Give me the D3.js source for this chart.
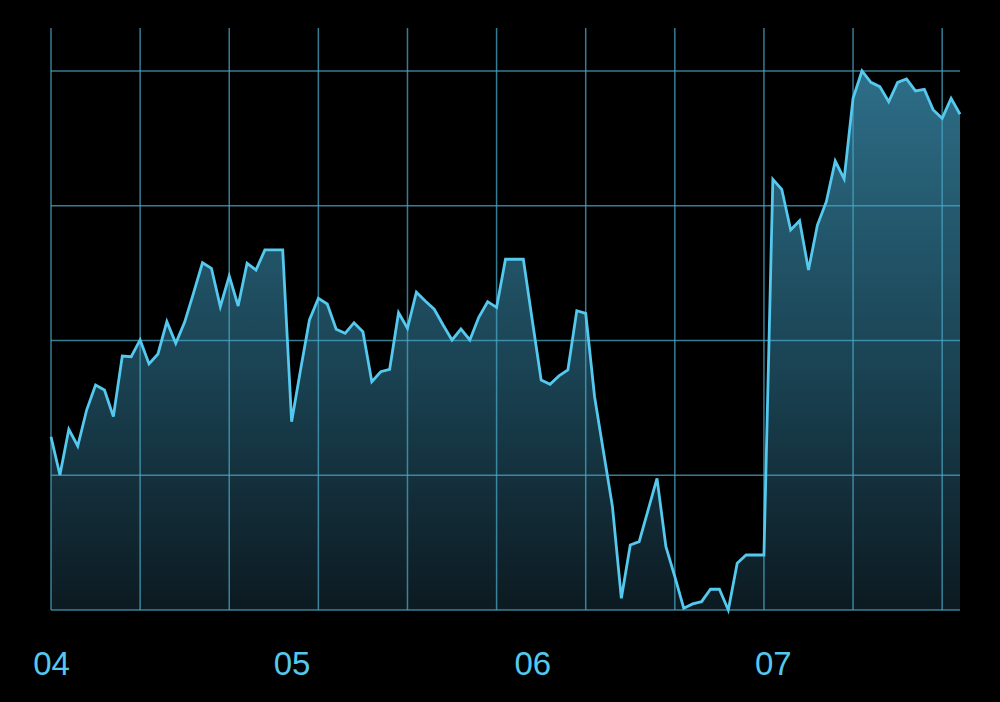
<!DOCTYPE html>
<html>
<head>
<meta charset="utf-8">
<script src="https://cdn.jsdelivr.net/npm/d3@7"></script>
<style>
  html, body { margin: 0; padding: 0; background: #000; }
  svg { display: block; }
</style>
</head>
<body>
<svg id="chart" width="1000" height="702"></svg>
<script>
// ---- data ----
const values = [
  12.86, 10.02, 13.41, 12.17, 14.84, 16.70, 16.33, 14.35, 18.85, 18.80,
  20.04, 18.26, 19.00, 21.40, 19.79, 21.37, 23.53, 25.77, 25.36, 22.51,
  24.79, 22.56, 25.73, 25.23, 26.72, 26.72, 26.72, 13.97, 17.81, 21.52,
  23.13, 22.71, 20.83, 20.53, 21.32, 20.65, 16.94, 17.68, 17.86, 22.06,
  20.91, 23.58, 22.93, 22.32, 21.15, 20.04, 20.85, 20.04, 21.72, 22.88,
  22.46, 26.03, 26.03, 26.03, 21.52, 17.07, 16.75, 17.37, 17.81, 22.21,
  22.02, 15.81, 11.73, 7.67, 0.87, 4.82, 5.07, 7.42, 9.77, 4.70,
  2.47, 0.13, 0.45, 0.62, 1.54, 1.54, 0.00, 3.47, 4.08, 4.08,
  4.08, 31.96, 31.22, 28.20, 28.89, 25.23, 28.57, 30.30, 33.32, 31.99,
  37.97, 40.00, 39.16, 38.84, 37.72, 39.16, 39.41, 38.52, 38.64, 37.11,
  36.49, 37.97, 36.79
];
const xGridTicks = [0, 10, 20, 30, 40, 50, 60, 70, 80, 90, 100];
const yGridTicks = [0, 10, 20, 30, 40];
const labelPositions = [0, 27, 54, 81];
const labelTexts = ["04", "05", "06", "07"];

// ---- layout ----
const svg = d3.select("#chart");
const mLeft = 51, mRight = 960, mTop = 71, mBottom = 610, gridTop = 28;

const x = d3.scaleLinear().domain([0, values.length - 1]).range([mLeft, mRight]);
const y = d3.scaleLinear().domain([0, 40]).range([mBottom, mTop]);

const defs = svg.append("defs");
const grad = defs.append("linearGradient")
  .attr("id", "fillGrad")
  .attr("gradientUnits", "userSpaceOnUse")
  .attr("x1", 0).attr("x2", 0)
  .attr("y1", mTop).attr("y2", mBottom);
grad.append("stop").attr("offset", "0%").attr("stop-color", "#2d6e88");
grad.append("stop").attr("offset", "55%").attr("stop-color", "#1a4353");
grad.append("stop").attr("offset", "100%").attr("stop-color", "#0c1a21");

// area
const area = d3.area()
  .x((d, i) => x(i))
  .y0(mBottom)
  .y1(d => y(d));
svg.append("path")
  .datum(values)
  .attr("d", area)
  .attr("fill", "url(#fillGrad)");

// grid
const grid = svg.append("g").attr("class", "grid");
grid.selectAll("line.v")
  .data(xGridTicks)
  .join("line")
  .attr("class", "v")
  .attr("x1", d => x(d)).attr("x2", d => x(d))
  .attr("y1", gridTop).attr("y2", mBottom)
  .attr("stroke", "#4aa6c4")
  .attr("stroke-opacity", 0.75)
  .attr("stroke-width", 1.5);
grid.selectAll("line.h")
  .data(yGridTicks)
  .join("line")
  .attr("class", "h")
  .attr("x1", mLeft).attr("x2", mRight)
  .attr("y1", d => y(d)).attr("y2", d => y(d))
  .attr("stroke", "#4aa6c4")
  .attr("stroke-opacity", 0.75)
  .attr("stroke-width", 1.5);

// line
const line = d3.line()
  .x((d, i) => x(i))
  .y(d => y(d));
svg.append("path")
  .datum(values)
  .attr("d", line)
  .attr("fill", "none")
  .attr("stroke", "#55c8ee")
  .attr("stroke-width", 2.8)
  .attr("stroke-linejoin", "miter");

// x labels
const xAxis = d3.axisBottom(x)
  .tickValues(labelPositions)
  .tickFormat((d, i) => labelTexts[i])
  .tickSize(0)
  .tickPadding(0);
const ax = svg.append("g")
  .attr("transform", "translate(0,675)")
  .call(xAxis);
ax.select(".domain").remove();
ax.selectAll("text")
  .attr("dy", 0)
  .attr("fill", "#55c8ee")
  .attr("font-family", "'Liberation Sans', Arial, Helvetica, sans-serif")
  .attr("font-size", 33)
  .attr("text-anchor", "middle");
</script>
</body>
</html>
